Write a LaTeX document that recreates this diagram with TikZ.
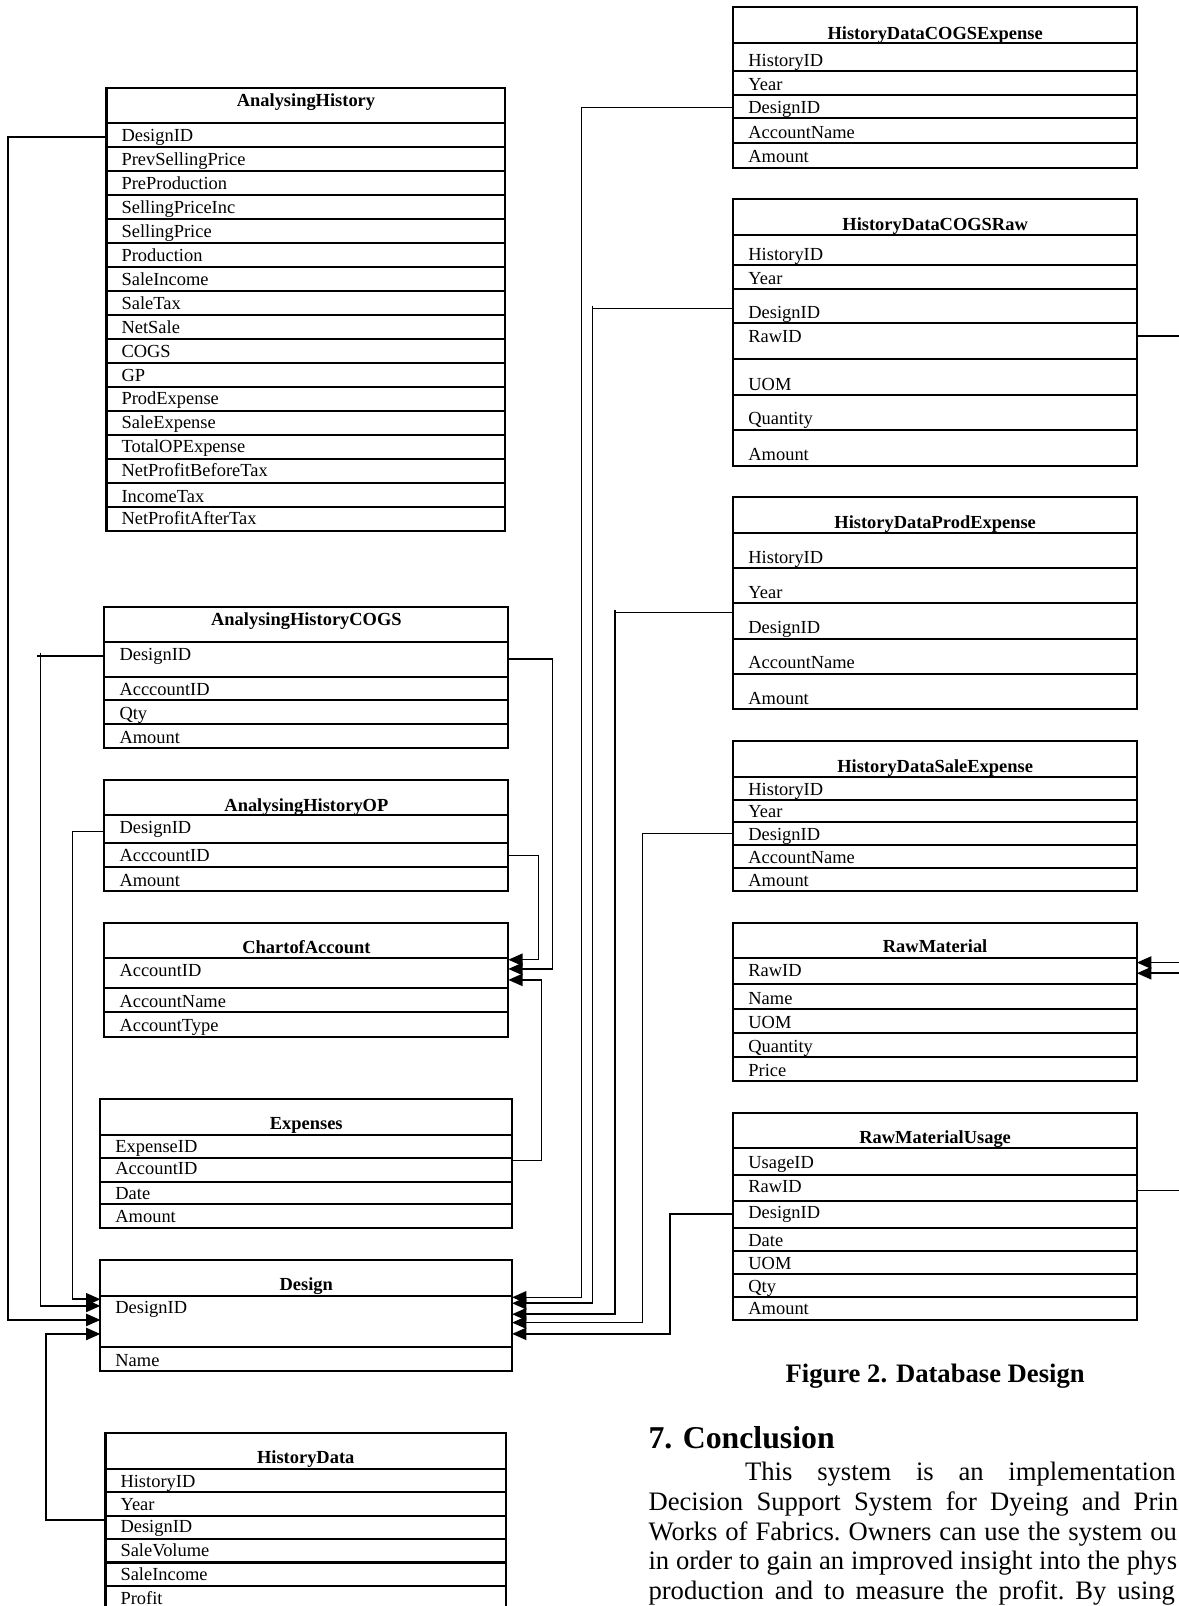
\documentclass[tikz,border=0pt]{standalone}
\usepackage{fontspec}
\setmainfont{Liberation Serif}
\usetikzlibrary{arrows.meta}
\tikzset{
  tbl/.style={line width=2pt, line cap=rect},
  conn/.style={line width=1.5pt},
  arr/.style={conn, -{Triangle[length=14pt,width=12pt]}},
  rowtext/.style={anchor=base west, inner sep=0pt, font=\fontsize{18}{20}\selectfont},
  titletext/.style={anchor=base, inner sep=0pt, font=\fontsize{18}{20}\selectfont\bfseries},
  bodytext/.style={anchor=base west, inner sep=0pt, font=\fontsize{26}{29}\selectfont},
}
\newcommand{\dbtable}[9]{%
  \node[titletext] (#1-title) at ({(#2+#3)/2},{#6+6}) {#7};
  \draw[tbl] (#2,#4) coordinate (#1-nw) rectangle (#3,#8) coordinate (#1-se);
  \draw[tbl] (#2,#5) -- (#3,#5);
  \foreach \b/\ty/\lab [count=\i] in {#9} {
    \draw[tbl] (#2,\b) -- (#3,\b);
    \node[rowtext] (#1-\i) at (#2+14.5,\ty+6) {\lab};
  }
}
\begin{document}
\begin{tikzpicture}[x=1pt,y=-1pt]
\useasboundingbox (0,0) rectangle (1151,1568);
\begin{scope}
\clip (0,0) rectangle (1151,1568);
% ---------------- left column ----------------
\dbtable{ah}{104}{493.5}{85.5}{120.5}{98}{AnalysingHistory}{518}{%
143.9/132.2/DesignID, 167.3/155.6/PrevSellingPrice, 190.6/179/PreProduction,
214/202.3/SellingPriceInc, 237.4/225.7/SellingPrice, 260.8/249.1/Production,
284.2/272.5/SaleIncome, 307.5/295.9/SaleTax, 330.9/319.2/NetSale,
354.3/342.6/COGS, 377.7/366/GP, 401.1/389.4/ProdExpense,
424.4/412.8/SaleExpense, 447.8/436.1/TotalOPExpense, 471.2/459.5/NetProfitBeforeTax,
494.6/484.5/IncomeTax, 518/506.3/NetProfitAfterTax}
\dbtable{ahc}{102}{496.3}{592.3}{626.4}{604.6}{AnalysingHistoryCOGS}{729.9}{%
660.6/638.5/DesignID, 683.4/672.7/AcccountID, 706.8/696.4/Qty, 729.9/719.8/Amount}
\dbtable{aho}{102}{496.3}{761.5}{795.7}{786.2}{AnalysingHistoryOP}{869.5}{%
823.3/807.7/DesignID, 846.1/835/AcccountID, 869.5/859.1/Amount}
\dbtable{coa}{102}{496.3}{900.8}{935.6}{925.2}{ChartofAccount}{1012.1}{%
964.2/947/AccountID, 988.3/977.9/AccountName, 1012.1/1001.3/AccountType}
\dbtable{exp}{98}{500}{1073}{1108}{1097}{Expenses}{1198.5}{%
1131/1119/ExpenseID, 1154/1141/AccountID, 1175.4/1165/Date, 1198.5/1187.8/Amount}
\dbtable{des}{98}{500}{1230}{1265.3}{1253.9}{Design}{1338.2}{%
1314.7/1276.6/DesignID, 1338.2/1327.7/Name}
\dbtable{hd}{103}{494}{1399.5}{1434.5}{1423}{HistoryData}{1580}{%
1457/1446.5/HistoryID, 1480/1468.3/Year, 1502.5/1490.4/DesignID,
1525.5/1513.9/SaleVolume, 1548.5/1536.7/SaleIncome, 1580/1560.4/Profit}
% ---------------- right column ----------------
\dbtable{hdce}{716}{1110}{7.2}{42.3}{32.5}{HistoryDataCOGSExpense}{163.7}{%
69/59.2/HistoryID, 92.7/82/Year, 115.5/105/DesignID, 139.3/129/AccountName, 163.7/152.3/Amount}
\dbtable{hdcr}{716}{1110}{194.3}{229.4}{218.7}{HistoryDataCOGSRaw}{454.6}{%
258.7/248.3/HistoryID, 281.8/271.7/Year, 315.7/305.3/DesignID, 350.5/328/RawID,
385.6/374.9/UOM, 419.8/408.4/Quantity, 454.6/443.2/Amount}
\dbtable{hdpe}{716}{1110}{485.5}{520}{510}{HistoryDataProdExpense}{692.2}{%
554.9/544.1/HistoryID, 589/578.3/Year, 624.2/612.8/DesignID, 658/647/AccountName, 692.2/681.8/Amount}
\dbtable{hdse}{716}{1110}{723.4}{758.2}{747.8}{HistoryDataSaleExpense}{869.5}{%
781/770.6/HistoryID, 802.2/792.4/Year, 825/814.2/DesignID, 847.7/837/AccountName, 869.5/859.1/Amount}
\dbtable{rm}{716}{1110}{901.4}{935.6}{924.2}{RawMaterial}{1055}{%
961/947/RawID, 985/974.7/Name, 1008.2/998/UOM, 1031.6/1021.2/Quantity, 1055/1044.6/Price}
\dbtable{rmu}{716}{1110}{1087}{1121.1}{1110.3}{RawMaterialUsage}{1288.7}{%
1147.1/1135.1/UsageID, 1172.2/1157.9/RawID, 1198.5/1183.6/DesignID, 1221.3/1210.6/Date,
1243.8/1233.4/UOM, 1265.9/1255.5/Qty, 1288.7/1277.3/Amount}
% ---------------- connector end points ----------------
\coordinate (ahL) at (104,134);
\coordinate (ahcL) at (102,640.4);
\coordinate (ahcR) at (496.3,643.4);
\coordinate (ahoL) at (102,811.9);
\coordinate (ahoR) at (496.3,835.4);
\coordinate (coaR1) at (496.3,937);
\coordinate (coaR2) at (496.3,946);
\coordinate (coaR3) at (496.3,956.7);
\coordinate (expR) at (500,1133);
\coordinate (desL1) at (98,1268.5);
\coordinate (desL2) at (98,1275);
\coordinate (desL3) at (98,1288.7);
\coordinate (desL4) at (98,1302.4);
\coordinate (desR1) at (500,1266.6);
\coordinate (desR2) at (500,1272.4);
\coordinate (desR3) at (500,1283.1);
\coordinate (desR4) at (500,1291.3);
\coordinate (desR5) at (500,1302.3);
\coordinate (hdL) at (103,1484);
\coordinate (hdceL) at (716,105.1);
\coordinate (hdcrL) at (716,301);
\coordinate (hdcrR) at (1110,328);
\coordinate (hdpeL) at (716,597.8);
\coordinate (hdseL) at (716,813.6);
\coordinate (rmR1) at (1110,939.8);
\coordinate (rmR2) at (1110,950.2);
\coordinate (rmuR) at (1110,1162.4);
\coordinate (rmuL) at (716,1185.5);
\coordinate (edgeA) at (1160,328);
\coordinate (edgeB) at (1160,939.8);
\coordinate (edgeC) at (1160,950.2);
\coordinate (edgeD) at (1160,1162.4);
% ---------------- connectors ----------------
\draw[arr] (ahL) -- ++(-96,0) |- (desL3);
\draw[conn] (ahcL) -- ++(-66.2,0);
\draw[conn] (ahcL) ++(-62.3,-3.2) -- ++(0,3.5);
\draw[arr] (ahcL) -- ++(-62.3,0) |- (desL2);
\draw[arr] (ahoL) -- ++(-31.4,0) |- (desL1);
\draw[arr] (hdL) -- ++(-58,0) |- (desL4);
\draw[arr] (ahcR) -- ++(43.3,0) |- (coaR2);
\draw[arr] (ahoR) -- ++(29.3,0) |- (coaR1);
\draw[arr] (expR) -- ++(28.8,0) |- (coaR3);
\draw[arr] (hdceL) -- ++(-148.1,0) |- (desR1);
\draw[conn] (hdcrL) ++(-137.7,-2.5) -- ++(0,2.8);
\draw[arr] (hdcrL) -- ++(-137.7,0) |- (desR2);
\draw[conn] (hdpeL) ++(-115.6,-2.5) -- ++(0,2.8);
\draw[arr] (hdpeL) -- ++(-115.6,0) |- (desR3);
\draw[arr] (hdseL) -- ++(-88.6,0) |- (desR4);
\draw[arr] (rmuL) -- ++(-61.9,0) |- (desR5);
\draw[conn] (hdcrR) -- (edgeA);
\draw[arr] (edgeB) -- (rmR1);
\draw[arr] (edgeC) -- (rmR2);
\draw[conn] (rmuR) -- (edgeD);
% ---------------- caption and text ----------------
\node[anchor=base, inner sep=0pt, font=\fontsize{26}{29}\selectfont\bfseries] (caption) at (913,1349.6) {Figure 2. Database Design};
\node[anchor=base west, inner sep=0pt, font=\fontsize{31}{34}\selectfont\bfseries] (heading) at (633,1414.3) {7. Conclusion};
\node[bodytext] (line1) at (727.3,1445.6) {\hbox to 420.3pt{This\hfill system\hfill is\hfill an\hfill implementation}};
\node[bodytext] (line2) at (633,1474.6) {\hbox to 517pt{Decision\hfill Support\hfill System\hfill for\hfill Dyeing\hfill and\hfill Prin}};
\node[bodytext] (line3) at (633,1503.6) {\hbox to 516pt{Works\hfill of\hfill Fabrics.\hfill Owners\hfill can\hfill use\hfill the\hfill system\hfill ou}};
\node[bodytext] (line4) at (633,1532.6) {\hbox to 516pt{in\hfill order\hfill to\hfill gain\hfill an\hfill improved\hfill insight\hfill into\hfill the\hfill phys}};
\node[bodytext] (line5) at (633,1561.6) {\hbox to 514pt{production\hfill and\hfill to\hfill measure\hfill the\hfill profit.\hfill By\hfill using}};
\end{scope}
\end{tikzpicture}
\end{document}
